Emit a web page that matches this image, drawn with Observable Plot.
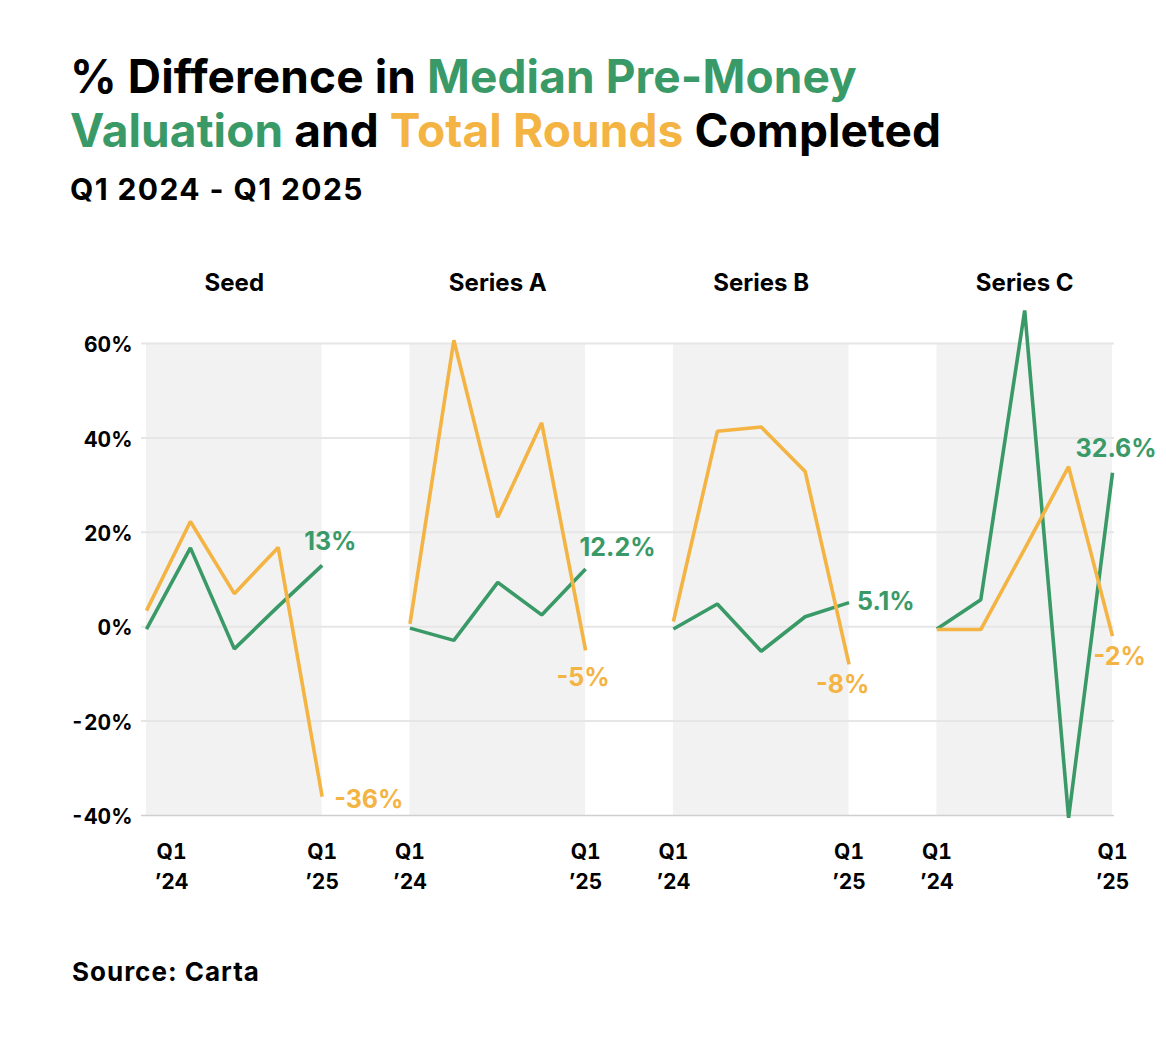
<!DOCTYPE html>
<html>
<head>
<meta charset="utf-8">
<script src="https://cdn.jsdelivr.net/npm/d3@7"></script>
<script src="https://cdn.jsdelivr.net/npm/@observablehq/plot@0.6"></script>
<style>
  html, body { margin: 0; padding: 0; background: #fff; }
  body { width: 1166px; height: 1040px; font-family: Inter, "Noto Sans", sans-serif; color: #000; }
  #title { position: absolute; left: 70px; top: 49px; font-size: 46px; font-weight: 700; line-height: 54px; letter-spacing: 0.1px; }
  #subtitle { position: absolute; left: 70px; top: 171px; font-size: 30px; font-weight: 700; letter-spacing: 1.4px; }
  #chart { position: absolute; left: 0; top: 250px; }
  #source { position: absolute; left: 72px; top: 956px; font-size: 26px; font-weight: 700; letter-spacing: 1px; }
  .green { color: #3a9a67; }
  .orange { color: #f4b444; }
</style>
</head>
<body>
<div id="title">% Difference in <span class="green">Median Pre-Money</span><br><span class="green">Valuation</span> and <span class="orange">Total Rounds</span> Completed</div>
<div id="subtitle">Q1 2024 - Q1 2025</div>
<div id="chart"></div>
<div id="source">Source: Carta</div>
<script>
// ---- data ----
const stages = ["Seed", "Series A", "Series B", "Series C"];
const quarters = ["Q1 '24", "Q2 '24", "Q3 '24", "Q4 '24", "Q1 '25"];
const seriesNames = ["Median Pre-Money Valuation", "Total Rounds Completed"];

const seedValuation    = [-0.5, 16.7, -4.7, 4.3, 13];
const seedRounds       = [3.4, 22.3, 7.0, 16.8, -36];
const seriesAValuation = [-0.3, -2.9, 9.4, 2.5, 12.2];
const seriesARounds    = [0.6, 60.7, 23.2, 43.2, -5];
const seriesBValuation = [-0.5, 4.8, -5.2, 2.1, 5.1];
const seriesBRounds    = [1.1, 41.4, 42.3, 32.9, -8];
const seriesCValuation = [-0.5, 5.7, 67, -40.5, 32.6];
const seriesCRounds    = [-0.6, -0.6, 16.5, 33.9, -2];

const yTicks = [-40, -20, 0, 20, 40, 60];
const xTickLabels = ["Q1\n\u201924", "Q1\n\u201925"];

// ---- styles ----
const GREEN = "#3a9a67", ORANGE = "#f4b444";
const colors = [GREEN, ORANGE];
const GAP = 2; // quarters-worth of blank space between panels
const span = quarters.length - 1;
const step = span + GAP;

const valuesBy = [
  [seedValuation, seedRounds],
  [seriesAValuation, seriesARounds],
  [seriesBValuation, seriesBRounds],
  [seriesCValuation, seriesCRounds]
];

const rows = [];
stages.forEach((stage, si) => {
  valuesBy[si].forEach((vals, k) => {
    vals.forEach((v, qi) => {
      rows.push({stage, series: seriesNames[k], color: colors[k], q: quarters[qi], pos: si * step + qi, value: v, last: qi === quarters.length - 1});
    });
  });
});

const panels = stages.map((s, si) => ({stage: s, x1: si * step, x2: si * step + span, mid: si * step + span / 2}));

// end-label placement (style only)
const placement = {
  "Seed|0": {dx: -18, dy: -23}, "Series A|0": {dx: -6, dy: -21}, "Series B|0": {dx: 8, dy: -1}, "Series C|0": {dx: -37, dy: -24},
  "Seed|1": {dx: 12, dy: 3}, "Series A|1": {dx: -29, dy: 28}, "Series B|1": {dx: -33, dy: 21}, "Series C|1": {dx: -19, dy: 21}
};
const endLabels = rows.filter(d => d.last);
const labelMarks = endLabels.map(d => {
  const k = seriesNames.indexOf(d.series);
  const p = placement[d.stage + "|" + k];
  return Plot.text([d], {x: "pos", y: "value", text: dd => `${dd.value}%`, fill: d.color, textAnchor: "start",
    dx: p.dx, dy: p.dy, fontSize: 25, fontWeight: 700, style: "letter-spacing:2px"});
});

const xTicks = [];
const xLabelOf = new Map();
stages.forEach((s, si) => {
  xTicks.push(si * step); xLabelOf.set(si * step, xTickLabels[0]);
  xTicks.push(si * step + span); xLabelOf.set(si * step + span, xTickLabels[1]);
});

const chart = Plot.plot({
  width: 1166,
  height: 660,
  marginTop: 93,
  marginBottom: 95,
  marginLeft: 141,
  marginRight: 52,
  style: {fontFamily: "Inter, 'Noto Sans', sans-serif", color: "#000", background: "transparent", overflow: "visible"},
  x: {domain: [0, stages.length * step - GAP], insetLeft: 5, insetRight: 2, axis: null},
  y: {domain: [-40, 60], axis: null},
  marks: [
    Plot.rect(panels, {x1: "x1", x2: "x2", fill: "#f2f2f2"}),
    Plot.ruleY(yTicks.filter(t => t !== -40), {stroke: "#e6e6e6", strokeWidth: 2}),
    Plot.ruleY([-40], {stroke: "#cfcfcf", strokeWidth: 1.5}),
    Plot.axisY({ticks: yTicks, label: null, tickSize: 0, tickPadding: 9, tickFormat: d => `${d}%`, fontSize: 21, fontWeight: 700, dy: 2, style: "letter-spacing:2px"}),
    Plot.axisX({ticks: xTicks.filter(t => t !== 0), label: null, tickSize: 0, tickPadding: 23, tickFormat: t => xLabelOf.get(t), fontSize: 21, fontWeight: 700, lineHeight: 1.4, style: "letter-spacing:1px"}),
    Plot.axisX({ticks: [0], label: null, tickSize: 0, tickPadding: 23, dx: 25, tickFormat: t => xLabelOf.get(t), fontSize: 21, fontWeight: 700, lineHeight: 1.4, style: "letter-spacing:1px"}),
    Plot.text(panels, {x: "mid", text: "stage", frameAnchor: "top", dy: -70, fontSize: 24, fontWeight: 700, style: "letter-spacing:0.8px"}),
    Plot.line(rows, {x: "pos", y: "value", z: d => d.stage + d.series, stroke: "color", strokeWidth: 3.6, strokeLinejoin: "miter", strokeLinecap: "butt", curve: "linear"}),
    ...labelMarks
  ]
});
document.getElementById("chart").appendChild(chart);
</script>
</body>
</html>
